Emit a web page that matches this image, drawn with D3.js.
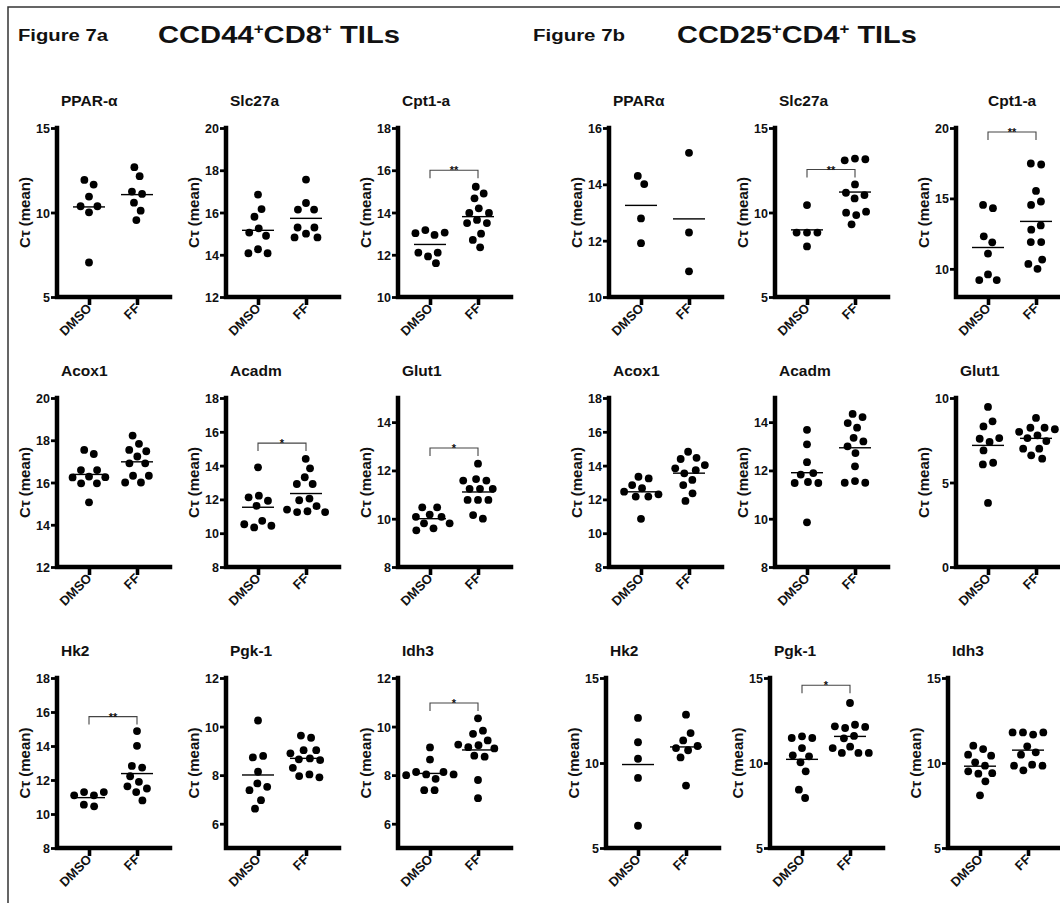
<!DOCTYPE html>
<html>
<head>
<meta charset="utf-8">
<script src="https://cdn.jsdelivr.net/npm/d3@7"></script>
<style>
  body { margin: 0; background: #fff; }
  text { font-family: "Liberation Sans", Arial, sans-serif; font-weight: bold; fill: #111; }
</style>
</head>
<body>
<div id="graph"></div>
<script>
const width = 1060, height = 903;

// panels: Figure 7a (row by row) then Figure 7b
const titles = ["PPAR-α", "Slc27a", "Cpt1-a", "Acox1", "Acadm", "Glut1", "Hk2", "Pgk-1", "Idh3",
                "PPARα", "Slc27a", "Cpt1-a", "Acox1", "Acadm", "Glut1", "Hk2", "Pgk-1", "Idh3"];
const groups = ["DMSO", "FF"];
const yDomains = [[5,15],[12,20],[10,18],[12,20],[8,18],[8,15],[8,18],[5,12],[5,12],
                  [10,16],[5,15],[8,20],[8,18],[8,15],[0,10],[5,15],[5,15],[5,15]];
const yTicks = [[5,10,15],[12,14,16,18,20],[10,12,14,16,18],[12,14,16,18,20],[8,10,12,14,16,18],
                [8,10,12,14],[8,10,12,14,16,18],[6,8,10,12],[6,8,10,12],
                [10,12,14,16],[5,10,15],[10,15,20],[8,10,12,14,16,18],[8,10,12,14],[0,5,10],
                [5,10,15],[5,10,15],[5,10,15]];
const dmso = [
  [11.93, 11.65, 10.94, 10.37, 10.37, 10.01, 7.04],
  [16.85, 16.16, 15.80, 15.25, 15.05, 14.90, 14.26, 14.07, 14.07],
  [13.17, 13.05, 13.02, 12.94, 12.10, 12.10, 11.92, 11.60],
  [17.54, 17.35, 16.59, 16.59, 16.28, 16.25, 16.24, 15.96, 15.96, 15.06],
  [13.90, 12.22, 12.12, 11.92, 11.62, 10.73, 10.53, 10.44, 10.34],
  [10.47, 10.47, 10.17, 10.08, 10.08, 9.81, 9.81, 9.60, 9.52],
  [11.29, 11.29, 11.10, 11.10, 10.55, 10.45],
  [10.25, 8.79, 8.73, 8.14, 7.66, 7.52, 7.38, 6.97, 6.62],
  [9.14, 8.64, 8.13, 8.13, 8.03, 8.03, 8.00, 7.85, 7.38, 7.38],
  [14.30, 14.01, 12.79, 11.91],
  [10.44, 8.81, 8.81, 8.81, 7.99],
  [14.54, 14.31, 12.31, 11.88, 11.08, 9.60, 9.20, 9.20],
  [13.34, 13.24, 12.85, 12.66, 12.46, 12.30, 12.17, 12.17, 10.85],
  [13.68, 13.08, 12.34, 11.89, 11.83, 11.52, 11.48, 11.48, 9.85],
  [9.47, 8.62, 8.32, 7.63, 7.59, 7.40, 6.90, 6.17, 6.07, 3.79],
  [12.65, 11.22, 10.25, 9.12, 6.31],
  [11.57, 11.47, 11.47, 10.88, 10.45, 10.39, 10.04, 9.51, 8.43, 7.94],
  [11.02, 10.82, 10.49, 10.43, 10.04, 9.84, 9.51, 9.40, 9.37, 8.92, 8.10]
];
const ff = [
  [12.68, 12.15, 11.24, 11.10, 10.58, 10.11, 9.55],
  [17.56, 16.45, 16.14, 16.14, 15.29, 15.29, 15.00, 14.82, 14.82],
  [15.22, 14.90, 14.67, 14.20, 13.98, 13.98, 13.65, 13.50, 13.50, 13.00, 12.70, 12.35],
  [18.22, 17.83, 17.54, 17.48, 17.23, 16.91, 16.91, 16.32, 16.32, 16.00, 16.00],
  [14.40, 13.84, 13.31, 12.91, 12.91, 12.05, 11.95, 11.60, 11.40, 11.30, 11.25, 11.25],
  [12.28, 11.64, 11.58, 11.58, 11.24, 11.24, 11.24, 10.78, 10.78, 10.78, 10.15, 10.00],
  [14.88, 14.01, 12.83, 12.73, 12.22, 11.89, 11.63, 11.50, 11.29, 10.80],
  [9.63, 9.54, 9.03, 9.03, 8.90, 8.69, 8.65, 8.62, 8.30, 8.03, 7.96, 7.91],
  [10.34, 9.83, 9.70, 9.43, 9.26, 9.23, 9.15, 9.10, 8.80, 8.76, 7.80, 7.05],
  [15.12, 12.29, 10.91],
  [13.19, 13.15, 13.09, 11.66, 11.17, 11.03, 10.83, 10.05, 9.99, 9.85, 9.30],
  [17.48, 17.41, 15.53, 14.78, 14.54, 13.08, 12.78, 11.90, 11.90, 10.66, 10.35, 10.00],
  [14.82, 14.46, 14.39, 14.03, 13.84, 13.73, 13.54, 13.15, 12.85, 12.36, 11.91],
  [14.34, 14.21, 13.96, 13.77, 13.35, 13.20, 13.00, 12.72, 12.17, 11.56, 11.49, 11.49],
  [8.82, 8.24, 8.24, 8.15, 8.00, 7.79, 7.63, 7.45, 7.00, 7.00, 6.61, 6.41],
  [12.84, 11.76, 11.33, 11.00, 10.88, 10.75, 10.33, 8.67],
  [13.53, 12.25, 12.16, 12.12, 12.06, 11.59, 11.45, 10.96, 10.88, 10.59, 10.59, 10.59],
  [11.80, 11.80, 11.80, 11.67, 10.98, 10.63, 10.49, 9.90, 9.84, 9.84, 9.57]
];
// significance brackets
const sigPanel = [2, 4, 5, 6, 8, 10, 11, 16];
const sigLevel = [16.0, 15.33, 12.93, 15.73, 10.97, 12.54, 19.72, 14.57];
const sigLabel = ["**", "*", "*", "**", "*", "**", "**", "*"];

// layout
const axisXa = [57, 226, 398];
const axisXb = [[609, 775, 956], [609, 775, 956], [606, 770, 948]];
const rowTop = [128, 398, 678], rowBottom = [297, 567, 848];
const titleY = [106, 376, 656];
const plotW = 113, dotR = 3.9;

const svg = d3.select('#graph').append("svg")
    .attr("width", width)
    .attr("height", height);

// frame
svg.append("path")
    .attr("d", "M8," + height + "V7H" + width)
    .attr("fill", "none")
    .attr("stroke", "#333")
    .attr("stroke-width", 1.5);

function bigTitle(x, target, parts) {
    const g = svg.append("g");
    const t = g.append("text").style("font-size", "24px");
    parts.forEach(p => {
        t.append("tspan")
            .attr("dy", p.sup ? -9 : (p.after ? 9 : 0))
            .style("font-size", p.sup ? "14px" : "24px")
            .text(p.s);
    });
    const w = t.node().getComputedTextLength();
    g.attr("transform", "translate(" + x + ",43) scale(" + (target / w) + ",1)");
}

svg.append("text").attr("x", 18).attr("y", 41)
    .style("font-size", "16px")
    .attr("textLength", 90).attr("lengthAdjust", "spacingAndGlyphs")
    .text("Figure 7a");
svg.append("text").attr("x", 533).attr("y", 41)
    .style("font-size", "16px")
    .attr("textLength", 92).attr("lengthAdjust", "spacingAndGlyphs")
    .text("Figure 7b");
bigTitle(158, 242, [{s: "CCD44"}, {s: "+", sup: true}, {s: "CD8", after: true}, {s: "+", sup: true}, {s: " TILs", after: true}]);
bigTitle(677, 240, [{s: "CCD25"}, {s: "+", sup: true}, {s: "CD4", after: true}, {s: "+", sup: true}, {s: " TILs", after: true}]);

function swarm(values, cx, y) {
    const nodes = values.map((v, j) => ({v: v, x: cx + (j % 2 ? 0.3 : -0.3) * j, fy: y(v)}));
    d3.forceSimulation(nodes)
        .force("x", d3.forceX(cx).strength(0.08))
        .force("collide", d3.forceCollide(5.2))
        .stop()
        .tick(300);
    return nodes;
}

function drawPanel(i) {
    const fig = i < 9 ? 0 : 1, k = i % 9, row = Math.floor(k / 3), col = k % 3;
    const ax = fig == 0 ? axisXa[col] : axisXb[row][col];
    const top = rowTop[row], bottom = rowBottom[row];

    const y = d3.scaleLinear().domain(yDomains[i]).range([bottom, top]);
    const x = d3.scalePoint().domain(groups).range([ax + 32, ax + 80]);
    const g = svg.append("g").attr("class", "panel");

    g.append("text")
        .attr("x", ax + (i == 11 ? 32 : 4))
        .attr("y", titleY[row])
        .style("font-size", "15.5px")
        .text(titles[i]);

    g.append("text")
        .attr("transform", "translate(" + (ax - 27) + "," + ((top + bottom) / 2) + ") rotate(-90)")
        .attr("text-anchor", "middle")
        .style("font-size", "15px")
        .text("Cτ (mean)");

    // y axis
    const ya = g.append("g")
        .attr("transform", "translate(" + ax + ",0)")
        .call(d3.axisLeft(y).tickValues(yTicks[i]).tickSize(6).tickPadding(1).tickFormat(d3.format("d")));
    ya.select(".domain").remove();
    ya.selectAll(".tick line").attr("stroke", "#000").attr("stroke-width", 2.8);
    ya.selectAll(".tick text").attr("dy", "0.36em").style("font-size", "12.5px").style("font-family", null).attr("fill", "#000");

    // x axis
    const xa = g.append("g")
        .attr("transform", "translate(0," + bottom + ")")
        .call(d3.axisBottom(x).tickSize(8).tickPadding(0));
    xa.select(".domain").remove();
    xa.selectAll(".tick line").attr("stroke", "#000").attr("stroke-width", 3.6);
    xa.selectAll(".tick text")
        .attr("y", 0).attr("dy", 0)
        .attr("transform", "translate(3,12) rotate(-45)")
        .attr("text-anchor", "end")
        .style("font-size", "13px").style("font-family", null).attr("fill", "#000");

    g.append("path")
        .attr("d", "M" + ax + "," + top + "V" + bottom + "H" + (ax + plotW))
        .attr("fill", "none")
        .attr("stroke", "#000")
        .attr("stroke-width", 4.5)
        .attr("stroke-linecap", "square");

    [dmso[i], ff[i]].forEach((vals, gi) => {
        const cx = x(groups[gi]);
        const nodes = swarm(vals, cx, y);
        g.append("g").selectAll("circle")
            .data(nodes)
            .enter().append("circle")
            .attr("cx", d => d.x)
            .attr("cy", d => d.y)
            .attr("r", dotR)
            .attr("fill", "#000");
        const m = d3.mean(vals);
        g.append("line")
            .attr("x1", cx - 16).attr("x2", cx + 16)
            .attr("y1", y(m)).attr("y2", y(m))
            .attr("stroke", "#000")
            .attr("stroke-width", 1.4);
    });

    const s = sigPanel.indexOf(i);
    if (s >= 0) {
        const ly = y(sigLevel[s]);
        g.append("path")
            .attr("d", "M" + x("DMSO") + "," + (ly + 8) + "V" + ly + "H" + x("FF") + "V" + (ly + 8))
            .attr("fill", "none")
            .attr("stroke", "#444")
            .attr("stroke-width", 1.1);
        g.append("text")
            .attr("x", (x("DMSO") + x("FF")) / 2)
            .attr("y", ly + 4)
            .attr("text-anchor", "middle")
            .style("font-size", "11px")
            .text(sigLabel[s]);
    }
}

d3.range(titles.length).forEach(drawPanel);
</script>
</body>
</html>
